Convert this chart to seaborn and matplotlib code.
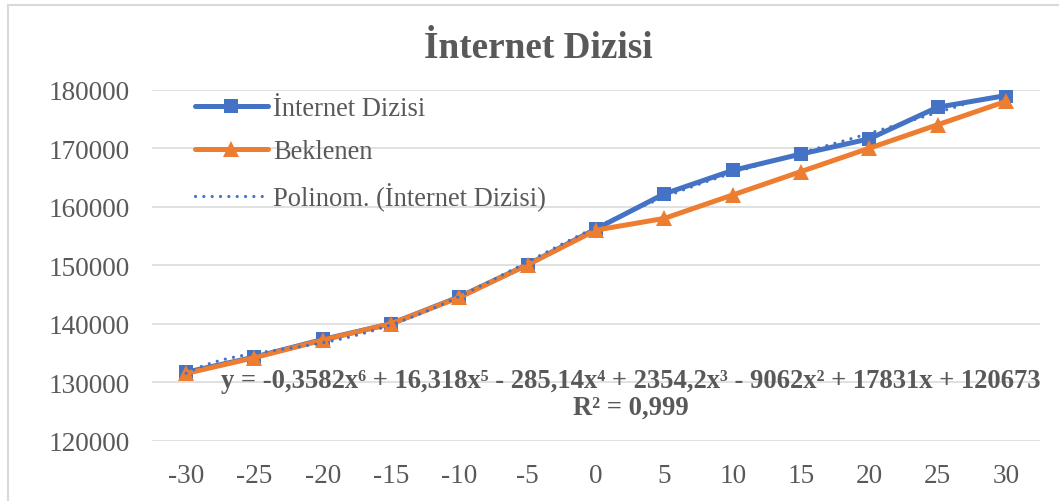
import numpy as np
import pandas as pd
import matplotlib
matplotlib.use("Agg")
import matplotlib.pyplot as plt
from matplotlib.patches import Rectangle
import seaborn as sns

# ---- data ----
categories = [-30, -25, -20, -15, -10, -5, 0, 5, 10, 15, 20, 25, 30]
internet = [131700, 134300, 137300, 140000, 144600, 150100, 156200,
            162200, 166200, 169000, 171600, 177000, 179000]
beklenen = [131500, 134200, 137200, 140000, 144500, 150100, 156000,
            158000, 162000, 166000, 170000, 174000, 178000]
yticks = [120000, 130000, 140000, 150000, 160000, 170000, 180000]
title = "İnternet Dizisi"
labels = ["İnternet Dizisi", "Beklenen", "Polinom. (İnternet Dizisi)"]
equation = "y = -0,3582x⁶ + 16,318x⁵ - 285,14x⁴ + 2354,2x³ - 9062x² + 17831x + 120673\nR² = 0,999"

BLUE = "#4472C4"
ORANGE = "#ED7D31"
GRAY = "#595959"
GRID = "#D9D9D9"

sns.set_style("white")
plt.rcParams["font.family"] = ["Liberation Serif", "DejaVu Serif"]

W, H = 1059, 502
fig = plt.figure(figsize=(W / 100, H / 100), dpi=100)
ax = fig.add_axes([152 / W, 1 - 441.7 / H, 888 / W, (441.7 - 90.7) / H])

pos = np.arange(len(categories))
df = pd.DataFrame({"pos": pos, "internet": internet, "beklenen": beklenen})

# polynomial trendline (degree 6, Excel uses x = 1..n for category axes)
xi = pos + 1
coef = np.polyfit(xi, internet, 6)
xf = np.linspace(xi.min(), xi.max(), 300)
trend = pd.DataFrame({"pos": xf - 1, "trend": np.polyval(coef, xf)})

sns.lineplot(data=df, x="pos", y="internet", ax=ax, color=BLUE, lw=3.6,
             marker="s", markersize=10.5, markeredgewidth=0, label=labels[0],
             zorder=3, solid_capstyle="round")
sns.lineplot(data=df, x="pos", y="beklenen", ax=ax, color=ORANGE, lw=3.6,
             marker="^", markersize=11.5, markeredgewidth=0, label=labels[1],
             zorder=4, solid_capstyle="round")
sns.lineplot(data=trend, x="pos", y="trend", ax=ax, color=BLUE, lw=2.3,
             linestyle=(0, (0.01, 2.6)), dash_capstyle="round",
             label=labels[2], zorder=5)

ax.set_xlim(-0.5, len(categories) - 0.5)
ax.set_ylim(120000, 180000)
ax.set_xticks(pos)
ax.set_xticklabels([str(c) for c in categories])
ax.set_yticks(yticks)
ax.set_yticklabels([str(v) for v in yticks])
ax.set_xlabel("")
ax.set_ylabel("")
ax.grid(axis="y", color=GRID, lw=1.1)
ax.set_axisbelow(True)
for s in ax.spines.values():
    s.set_visible(False)
ax.tick_params(axis="both", length=0, labelsize=19.6, labelcolor=GRAY)
ax.tick_params(axis="x", pad=16)
ax.tick_params(axis="y", pad=16)

leg = ax.legend(loc="upper left", bbox_to_anchor=(195 / W, 1 - 97 / H),
                bbox_transform=fig.transFigure, frameon=False,
                fontsize=19.1, labelcolor=GRAY, handlelength=2.75,
                handletextpad=0.18, labelspacing=0.68, borderpad=0,
                borderaxespad=0)

fig.text(538 / W, 1 - 48 / H, title, ha="center", va="center",
         fontsize=26.8, fontweight="bold", color=GRAY)
fig.text(631 / W, 1 - 395 / H, equation, ha="center", va="center",
         fontsize=19.2, fontweight="bold", color=GRAY, linespacing=1.12,
         multialignment="center")

fig.patches.append(Rectangle((8 / W, -0.2), 1.5, 1 - 6 / H + 0.2,
                             transform=fig.transFigure, fill=False,
                             edgecolor=GRID, lw=1.5, zorder=-1))

fig.savefig("out.png", dpi=100, facecolor="white")
